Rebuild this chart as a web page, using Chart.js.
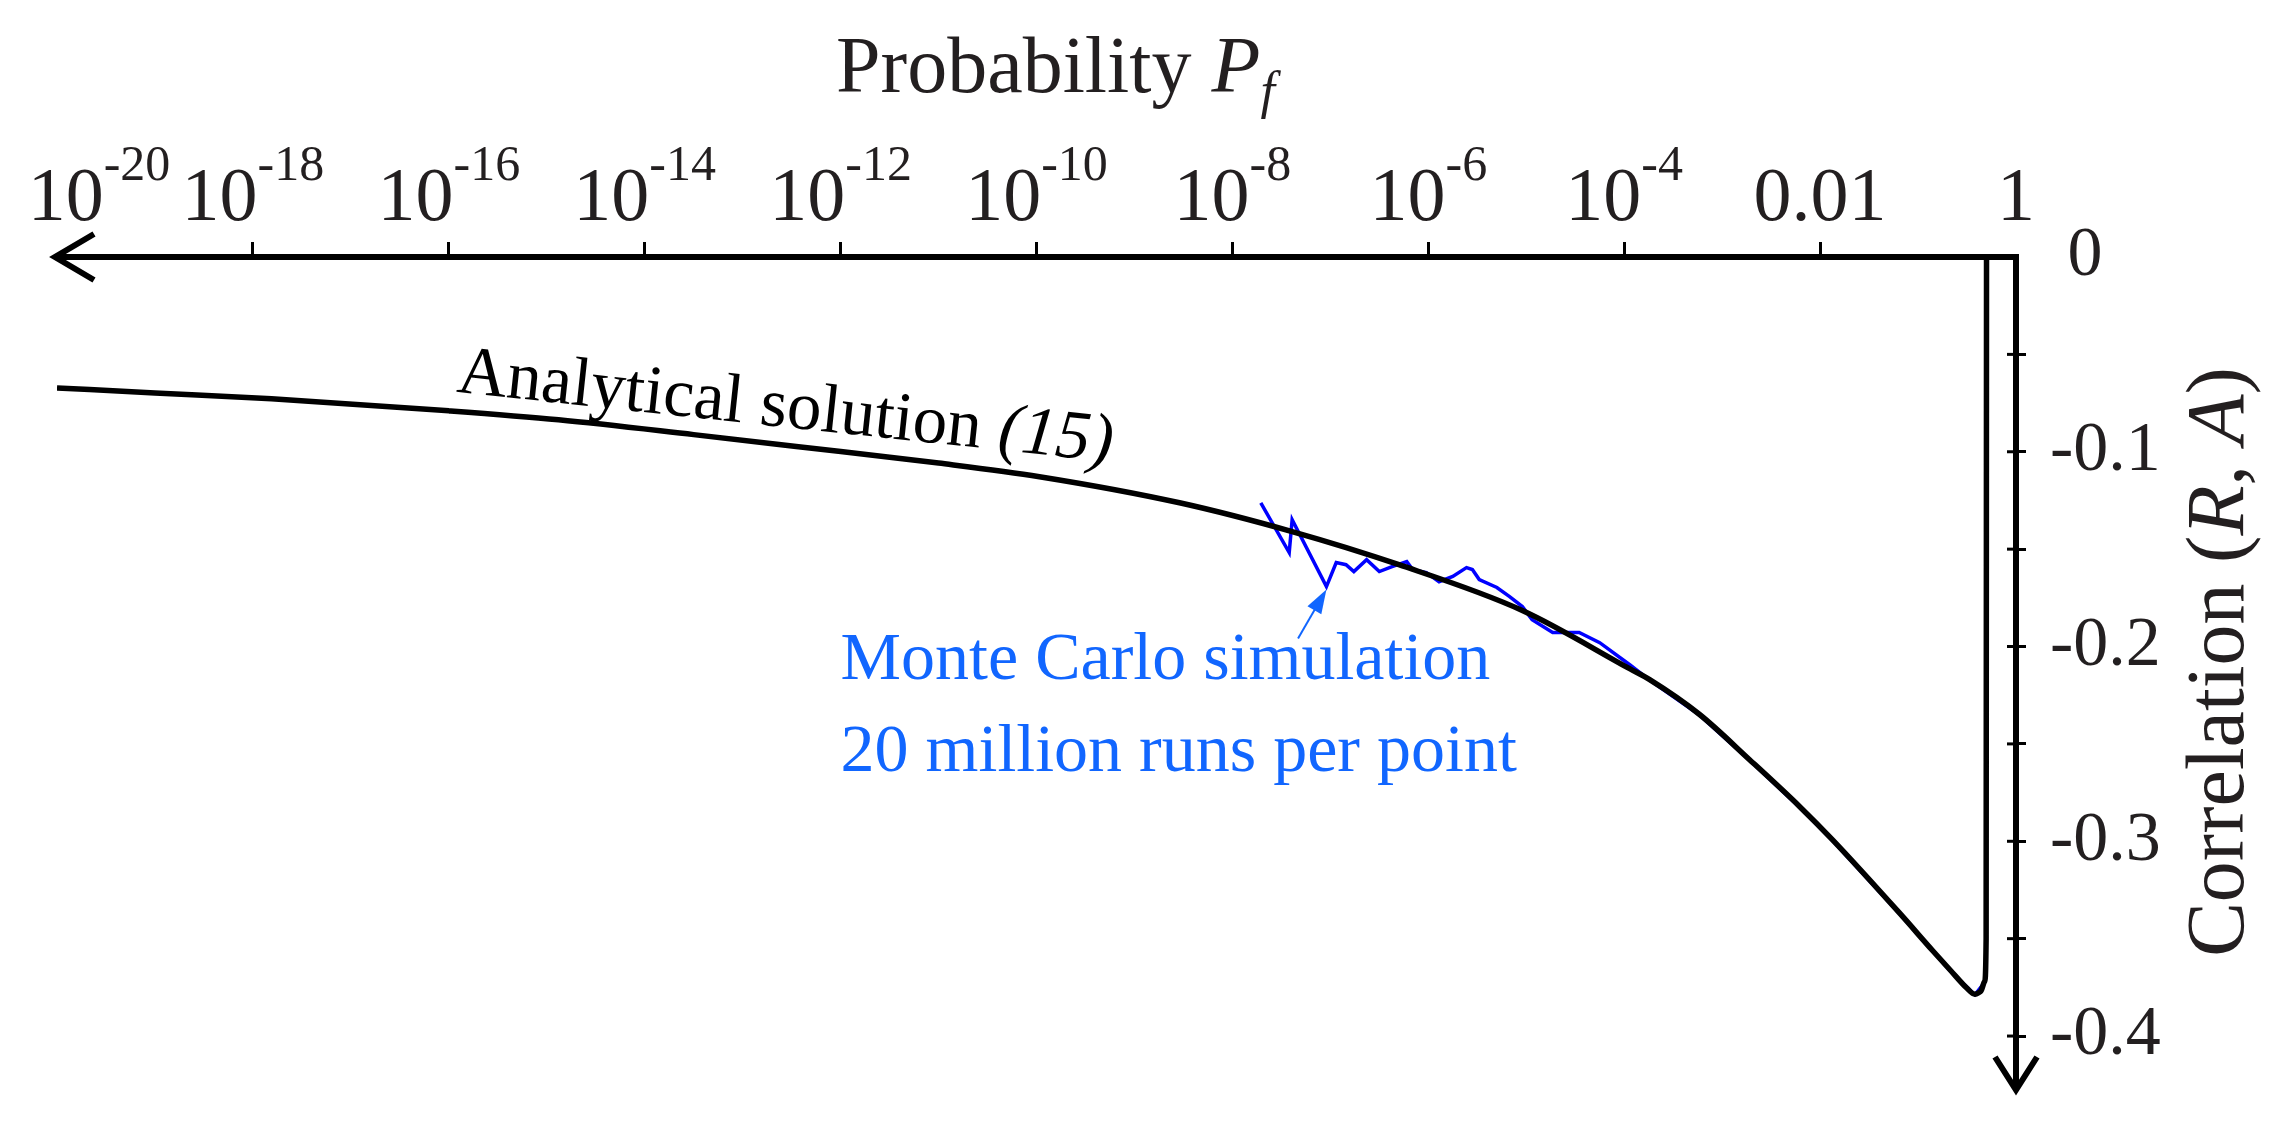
<!DOCTYPE html>
<html>
<head>
<meta charset="utf-8">
<title>Correlation (R, A) vs probability Pf</title>
<script src="https://cdn.jsdelivr.net/npm/chart.js@4.4.1/dist/chart.umd.min.js"></script>
<style>
  html, body { margin: 0; padding: 0; background: #ffffff; }
  #wrap { width: 2291px; height: 1124px; }
</style>
</head>
<body>
<div id="wrap"><canvas id="grafica" width="2291" height="1124"></canvas></div>
<script>
const analyticalExp = [-20, -19, -17.81, -16, -14.88, -13.5, -12.43, -11, -9.97, -8.54, -7.39, -6.3, -5.04, -3.94, -3.74, -3.23, -2.72, -2.21, -1.87, -1.19, -0.85, -0.67, -0.5, -0.42, -0.36, -0.32, -0.305, -0.301]
const analyticalCorr = [-0.0672, -0.0698, -0.0728, -0.079, -0.0836, -0.0912, -0.0974, -0.1058, -0.1128, -0.1262, -0.141, -0.158, -0.1815, -0.2115, -0.217, -0.2349, -0.2581, -0.2821, -0.2994, -0.3368, -0.3562, -0.3662, -0.3755, -0.3785, -0.377, -0.372, -0.35, 0]

const monteCarloExp = [-7.71, -7.42, -7.39, -7.04, -6.94, -6.84, -6.76, -6.63, -6.5, -6.37, -6.22, -6.16, -6.02, -5.89, -5.75, -5.61, -5.55, -5.48, -5.3, -5.17, -5.04, -4.94, -4.73, -4.46, -4.25, -3.94, -3.74, -3.23, -2.72, -2.21, -1.87, -1.19, -0.67, -0.42, -0.33]
const monteCarloCorr = [-0.1262, -0.1518, -0.1349, -0.1692, -0.1569, -0.158, -0.1615, -0.1554, -0.1615, -0.159, -0.1564, -0.1605, -0.162, -0.1667, -0.164, -0.1595, -0.1605, -0.1656, -0.1697, -0.1744, -0.1795, -0.1862, -0.1928, -0.1928, -0.198, -0.2095, -0.2172, -0.2352, -0.2584, -0.2825, -0.2997, -0.3371, -0.3666, -0.3788, -0.373]

const xTickExp = [-20, -18, -16, -14, -12, -10, -8, -6, -4, -2, 0]
const xTickBase = ['10', '10', '10', '10', '10', '10', '10', '10', '10', '0.01', '1']
const xTickSup = ['-20', '-18', '-16', '-14', '-12', '-10', '-8', '-6', '-4', '', '']

const yTickValues = [0, -0.05, -0.1, -0.15, -0.2, -0.25, -0.3, -0.35, -0.4]
const yTickLabels = [' 0', '', '-0.1', '', '-0.2', '', '-0.3', '', '-0.4']

const serif = '"Liberation Serif", "Times New Roman", serif'
const ink = '#231f20'
const noteBlue = '#1166ff'

const toPoints = (exps, vals) => exps.map((e, i) => ({ x: Math.pow(10, e), y: vals[i] }))

const extras = {
    id: 'extras',
    afterDraw(chart) {
        const ctx = chart.ctx
        const xs = chart.scales.x
        const ys = chart.scales.y
        const area = chart.chartArea
        ctx.save()

        // x tick labels with superscripts
        xTickExp.forEach((e, i) => {
            let px = xs.getPixelForValue(Math.pow(10, e))
            if (i === 0) px += 42   // the original pushes this one clear of the arrow
            ctx.font = '76px ' + serif
            const wb = ctx.measureText(xTickBase[i]).width
            ctx.font = '50px ' + serif
            const ws = ctx.measureText(xTickSup[i]).width
            const x0 = px - (wb + ws) / 2
            ctx.fillStyle = ink
            ctx.textAlign = 'left'
            ctx.textBaseline = 'alphabetic'
            ctx.font = '76px ' + serif
            ctx.fillText(xTickBase[i], x0, area.top - 37)
            ctx.font = '50px ' + serif
            ctx.fillText(xTickSup[i], x0 + wb, area.top - 77)
        })

        // x title
        ctx.fillStyle = ink
        ctx.font = '80px ' + serif
        let tx = 836
        ctx.fillText('Probability ', tx, 92)
        tx += ctx.measureText('Probability ').width
        ctx.font = 'italic 80px ' + serif
        ctx.fillText('P', tx, 92)
        tx += ctx.measureText('P').width
        ctx.font = 'italic 52px ' + serif
        ctx.fillText('f', tx, 108)

        // y title, rotated
        ctx.save()
        ctx.translate(2243, 662)
        ctx.rotate(-Math.PI / 2)
        const parts = [['Correlation (', ''], ['R', 'italic '], [', ', ''], ['A', 'italic '], [')', '']]
        let total = 0
        parts.forEach(p => { ctx.font = p[1] + '82px ' + serif; total += ctx.measureText(p[0]).width })
        let yx = -total / 2
        parts.forEach(p => {
            ctx.font = p[1] + '82px ' + serif
            ctx.fillText(p[0], yx, 0)
            yx += ctx.measureText(p[0]).width
        })
        ctx.restore()

        // inner halves of the y ticks
        ctx.strokeStyle = '#000'
        ctx.lineWidth = 3
        yTickValues.forEach(v => {
            if (v === 0) return
            const py = ys.getPixelForValue(v)
            ctx.beginPath()
            ctx.moveTo(area.right - 9, py)
            ctx.lineTo(area.right, py)
            ctx.stroke()
        })

        // axis arrows
        ctx.lineWidth = 6
        ctx.lineCap = 'butt'
        ctx.beginPath()
        ctx.moveTo(area.left + 37, area.top - 23)
        ctx.lineTo(area.left - 2, area.top)
        ctx.lineTo(area.left + 37, area.top + 23)
        ctx.stroke()
        ctx.beginPath()
        ctx.moveTo(area.right - 21, area.bottom - 33)
        ctx.lineTo(area.right, area.bottom)
        ctx.lineTo(area.right + 21, area.bottom - 33)
        ctx.stroke()

        // label along the analytical curve
        ctx.save()
        ctx.translate(xs.getPixelForValue(Math.pow(10, -15.93)), ys.getPixelForValue(-0.0692))
        ctx.rotate(6.1 * Math.PI / 180)
        ctx.fillStyle = '#000'
        ctx.font = '69px ' + serif
        ctx.fillText('Analytical solution ', 0, 0)
        const wa = ctx.measureText('Analytical solution ').width
        ctx.font = 'italic 69px ' + serif
        ctx.fillText('(15)', wa, 0)
        ctx.restore()

        // Monte Carlo note and its arrow
        const nx = xs.getPixelForValue(Math.pow(10, -12.0))
        ctx.fillStyle = noteBlue
        ctx.font = '68px ' + serif
        ctx.fillText('Monte Carlo simulation', nx, ys.getPixelForValue(-0.2169))
        ctx.fillText('20 million runs per point', nx, ys.getPixelForValue(-0.2641))

        const ax0 = xs.getPixelForValue(Math.pow(10, -7.33))
        const ay0 = ys.getPixelForValue(-0.1959)
        const ax1 = xs.getPixelForValue(Math.pow(10, monteCarloExp[3]))
        const ay1 = ys.getPixelForValue(monteCarloCorr[3]) + 3
        const ang = Math.atan2(ay1 - ay0, ax1 - ax0)
        ctx.strokeStyle = noteBlue
        ctx.lineWidth = 2
        ctx.beginPath()
        ctx.moveTo(ax0, ay0)
        ctx.lineTo(ax1 - 20 * Math.cos(ang), ay1 - 20 * Math.sin(ang))
        ctx.stroke()
        ctx.beginPath()
        ctx.moveTo(ax1, ay1)
        ctx.lineTo(ax1 - 24 * Math.cos(ang) + 8 * Math.sin(ang), ay1 - 24 * Math.sin(ang) - 8 * Math.cos(ang))
        ctx.lineTo(ax1 - 24 * Math.cos(ang) - 8 * Math.sin(ang), ay1 - 24 * Math.sin(ang) + 8 * Math.cos(ang))
        ctx.closePath()
        ctx.fill()

        ctx.restore()
    }
}

const noPad = (s) => { s.paddingTop = 0; s.paddingBottom = 0; s.paddingLeft = 0; s.paddingRight = 0 }

const dataConfig = {
    datasets: [
        {
            label: 'Analytical solution (15)',
            data: toPoints(analyticalExp, analyticalCorr),
            borderColor: '#000000',
            borderWidth: 5.5,
            pointRadius: 0,
            cubicInterpolationMode: 'monotone',
            order: 0
        },
        {
            label: 'Monte Carlo simulation',
            data: toPoints(monteCarloExp, monteCarloCorr),
            borderColor: '#0000ff',
            borderWidth: 3.5,
            pointRadius: 0,
            tension: 0,
            order: 1
        }
    ]
}

const config = {
    type: 'line',
    data: dataConfig,
    options: {
        responsive: false,
        animation: false,
        devicePixelRatio: 1,
        layout: { padding: { left: 57, right: 130, top: 242, bottom: 34 } },
        plugins: { legend: { display: false }, tooltip: { enabled: false } },
        scales: {
            x: {
                type: 'logarithmic',
                position: 'top',
                min: 1e-20,
                max: 1,
                afterBuildTicks: (s) => { s.ticks = xTickExp.map(e => ({ value: Math.pow(10, e) })) },
                afterFit: (s) => { s.height = 15; noPad(s) },
                ticks: { display: false },
                grid: {
                    drawOnChartArea: false,
                    tickLength: 15,
                    tickWidth: 3,
                    tickColor: (c) => (c.tick && (c.tick.value <= 1e-20 || c.tick.value >= 1)) ? 'rgba(0,0,0,0)' : '#000'
                },
                border: { display: true, color: '#000', width: 6 }
            },
            y: {
                type: 'linear',
                position: 'right',
                min: -0.4277,
                max: 0,
                afterBuildTicks: (s) => { s.ticks = yTickValues.map(v => ({ value: v })) },
                afterFit: (s) => { s.width = 145; noPad(s) },
                ticks: {
                    color: ink,
                    font: { family: serif, size: 70 },
                    padding: 24,
                    crossAlign: 'near',
                    callback: (value) => {
                        const i = yTickValues.findIndex(v => Math.abs(v - value) < 1e-9)
                        return i >= 0 ? yTickLabels[i] : ''
                    }
                },
                grid: {
                    drawOnChartArea: false,
                    tickLength: 10,
                    tickWidth: 3,
                    tickColor: (c) => (c.tick && c.tick.value === 0) ? 'rgba(0,0,0,0)' : '#000'
                },
                border: { display: true, color: '#000', width: 6 }
            }
        }
    },
    plugins: [extras]
}

window.graficaUno = new Chart(document.getElementById('grafica'), config)
</script>
</body>
</html>
